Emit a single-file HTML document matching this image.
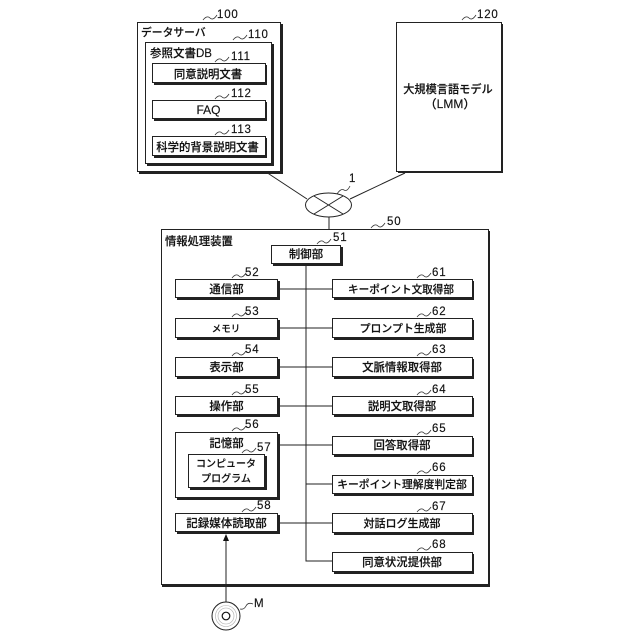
<!DOCTYPE html>
<html><head><meta charset="utf-8">
<style>
html,body{margin:0;padding:0;background:#fff}
svg{display:block}
text{font-family:"Liberation Sans","Noto Sans CJK JP",sans-serif;fill:#111;stroke:#111;stroke-width:.15}
.b{fill:#fff;stroke:#222;stroke-width:1}
.s{fill:#222}
.l{stroke:#222;stroke-width:1;fill:none}
.q{stroke:#333;stroke-width:.8;fill:none}
.t{font-size:11.4px;text-anchor:middle;font-weight:500}
.n{font-size:11.5px;letter-spacing:.8px}
</style></head><body>
<svg width="640" height="640" viewBox="0 0 640 640" xmlns="http://www.w3.org/2000/svg">
<!-- network lines -->
<path class="l" d="M266 172L307 199M405 173L350 199M329 217V229"/>
<ellipse cx="328.5" cy="205" rx="23" ry="12" fill="#fff" stroke="#222"/>
<path class="l" d="M314 196L343 214M343 196L314 214"/>

<!-- data server -->
<rect class="s" x="139" y="24" width="144" height="150"/><rect class="b" x="137.500" y="22.500" width="143" height="149"/>
<rect class="s" x="147" y="44" width="127" height="122"/><rect class="b" x="145.500" y="42.500" width="126" height="121"/>
<rect class="s" x="154" y="65" width="113" height="20"/><rect class="b" x="152.500" y="63.500" width="113" height="19"/>
<rect class="s" x="154" y="102" width="113" height="19"/><rect class="b" x="152.500" y="100.500" width="113" height="18"/>
<rect class="s" x="154" y="138" width="113" height="20"/><rect class="b" x="152.500" y="136.500" width="113" height="19"/>
<text x="141" y="36" font-size="10.800" font-weight="500">データサーバ</text>
<text x="150" y="57" font-size="11.500" font-weight="500">参照文書DB</text>
<text class="t" x="208" y="78">同意説明文書</text>
<text class="t" x="208.500" y="114" style="font-size:12px">FAQ</text>
<text class="t" x="207.500" y="151">科学的背景説明文書</text>

<!-- LLM -->
<rect class="s" x="398" y="24" width="105" height="149"/><rect class="b" x="396.500" y="22.500" width="105" height="149"/>
<text class="t" x="448" y="93" style="font-size:11.200px">大規模言語モデル</text>
<text class="t" x="450" y="108" style="font-size:12px">（LMM）</text>

<!-- info processing -->
<rect class="s" x="162" y="231" width="328" height="356"/><rect class="b" x="161.500" y="229.500" width="327" height="355"/>
<text x="165" y="245" font-size="11.300" font-weight="500">情報処理装置</text>

<!-- connectors -->
<path class="l" d="M306 264V561H332M278 289H332M278 328H332M278 367H332M278 406H332M278 445H332M306 484H332M278 523H332"/>
<path class="l" d="M226 602V538"/>
<path d="M226 534L223 541H229Z" fill="#111"/>

<!-- boxes -->
<rect class="s" x="273" y="247" width="70" height="19"/><rect class="b" x="271.500" y="245.500" width="69" height="18"/>
<text class="t" x="306" y="258">制御部</text>

<rect class="s" x="177" y="281" width="103" height="19"/><rect class="b" x="175.500" y="279.500" width="102" height="18"/>
<text class="t" x="226.500" y="293">通信部</text>
<rect class="s" x="177" y="320" width="103" height="20"/><rect class="b" x="175.500" y="318.500" width="102" height="19"/>
<text class="t" x="226" y="332" style="font-size:9.500px">メモリ</text>
<rect class="s" x="177" y="359" width="103" height="20"/><rect class="b" x="175.500" y="357.500" width="102" height="19"/>
<text class="t" x="226.500" y="371">表示部</text>
<rect class="s" x="177" y="398" width="103" height="19"/><rect class="b" x="175.500" y="396.500" width="102" height="18"/>
<text class="t" x="226.500" y="410">操作部</text>
<rect class="s" x="177" y="434" width="103" height="66"/><rect class="b" x="175.500" y="432.500" width="102" height="65"/>
<text class="t" x="226.500" y="447">記憶部</text>
<rect class="s" x="190" y="456" width="77" height="34"/><rect class="b" x="188.500" y="454.500" width="76" height="33"/>
<text class="t" x="226" y="467" style="font-size:10px">コンピュータ</text>
<text class="t" x="226" y="482" style="font-size:10px">プログラム</text>
<rect class="s" x="177" y="515" width="103" height="19"/><rect class="b" x="175.500" y="513.500" width="102" height="18"/>
<text class="t" x="226.500" y="527" style="font-size:11.500px">記録媒体読取部</text>

<rect class="s" x="334" y="281" width="140" height="19"/><rect class="b" x="332.500" y="279.500" width="140" height="18"/>
<text class="t" x="401" y="293" style="font-size:10.600px">キーポイント文取得部</text>
<rect class="s" x="334" y="320" width="140" height="20"/><rect class="b" x="332.500" y="318.500" width="140" height="19"/>
<text class="t" x="403" y="332" style="font-size:10.900px">プロンプト生成部</text>
<rect class="s" x="334" y="359" width="140" height="20"/><rect class="b" x="332.500" y="357.500" width="140" height="19"/>
<text class="t" x="402" y="371">文脈情報取得部</text>
<rect class="s" x="334" y="398" width="140" height="19"/><rect class="b" x="332.500" y="396.500" width="140" height="18"/>
<text class="t" x="402" y="410">説明文取得部</text>
<rect class="s" x="334" y="438" width="140" height="19"/><rect class="b" x="332.500" y="436.500" width="140" height="18"/>
<text class="t" x="402" y="449">回答取得部</text>
<rect class="s" x="334" y="477" width="140" height="19"/><rect class="b" x="332.500" y="475.500" width="140" height="18"/>
<text class="t" x="402" y="488" style="font-size:10.800px">キーポイント理解度判定部</text>
<rect class="s" x="334" y="515" width="140" height="20"/><rect class="b" x="332.500" y="513.500" width="140" height="19"/>
<text class="t" x="402" y="527" style="font-size:11px">対話ログ生成部</text>
<rect class="s" x="334" y="554" width="140" height="20"/><rect class="b" x="332.500" y="552.500" width="140" height="19"/>
<text class="t" x="402" y="566">同意状況提供部</text>

<!-- disc -->
<circle cx="226" cy="616" r="14" fill="#fff" stroke="#222"/>
<circle cx="226" cy="616" r="10.500" fill="none" stroke="#aaa" stroke-width=".6"/>
<circle cx="226" cy="616" r="8" fill="none" stroke="#aaa" stroke-width=".6"/>
<circle cx="226" cy="616" r="3.800" fill="#fff" stroke="#111" stroke-width="1.200"/>

<!-- squiggles -->
<path class="q" d="M203 20q4-5 7-2t7-3"/>
<path class="q" d="M233 40q4-5 7-2t7-3"/>
<path class="q" d="M215 62q4-5 7-2t7-3"/>
<path class="q" d="M215 99q4-5 7-2t7-3"/>
<path class="q" d="M215 135q4-5 7-2t7-3"/>
<path class="q" d="M462 20q4-5 7-2t7-3"/>
<path class="q" d="M337 194q4-6 7-4t6-4"/>
<path class="q" d="M371 228q4-5 7-2t7-3"/>
<path class="q" d="M317 244q4-5 7-2t7-3"/>
<path class="q" d="M232 278q4-5 7-2t7-3"/>
<path class="q" d="M232 317q4-5 7-2t7-3"/>
<path class="q" d="M232 356q4-5 7-2t7-3"/>
<path class="q" d="M232 395q4-5 7-2t7-3"/>
<path class="q" d="M232 431q4-5 7-2t7-3"/>
<path class="q" d="M242 453q4-5 7-2t7-3"/>
<path class="q" d="M242 512q4-5 7-2t7-3"/>
<path class="q" d="M417 278q4-5 7-2t7-3"/>
<path class="q" d="M417 317q4-5 7-2t7-3"/>
<path class="q" d="M417 356q4-5 7-2t7-3"/>
<path class="q" d="M417 395q4-5 7-2t7-3"/>
<path class="q" d="M417 435q4-5 7-2t7-3"/>
<path class="q" d="M417 474q4-5 7-2t7-3"/>
<path class="q" d="M417 512q4-5 7-2t7-3"/>
<path class="q" d="M417 551q4-5 7-2t7-3"/>
<path class="q" d="M240 609q4 1 6-3t7-2"/>

<!-- numbers -->
<text class="n" x="217" y="18">100</text>
<text class="n" x="248" y="38">110</text>
<text class="n" x="231" y="60">111</text>
<text class="n" x="231" y="97">112</text>
<text class="n" x="231" y="133">113</text>
<text class="n" x="477" y="18">120</text>
<text class="n" x="349" y="182">1</text>
<text class="n" x="387" y="225">50</text>
<text class="n" x="333" y="241">51</text>
<text class="n" x="245" y="276">52</text>
<text class="n" x="245" y="315">53</text>
<text class="n" x="245" y="353">54</text>
<text class="n" x="245" y="393">55</text>
<text class="n" x="245" y="428">56</text>
<text class="n" x="257" y="451">57</text>
<text class="n" x="257" y="509">58</text>
<text class="n" x="432" y="276">61</text>
<text class="n" x="432" y="315">62</text>
<text class="n" x="432" y="353">63</text>
<text class="n" x="432" y="393">64</text>
<text class="n" x="432" y="432">65</text>
<text class="n" x="432" y="471">66</text>
<text class="n" x="432" y="510">67</text>
<text class="n" x="432" y="548">68</text>
<text class="n" x="254" y="607">M</text>
</svg>
</body></html>
